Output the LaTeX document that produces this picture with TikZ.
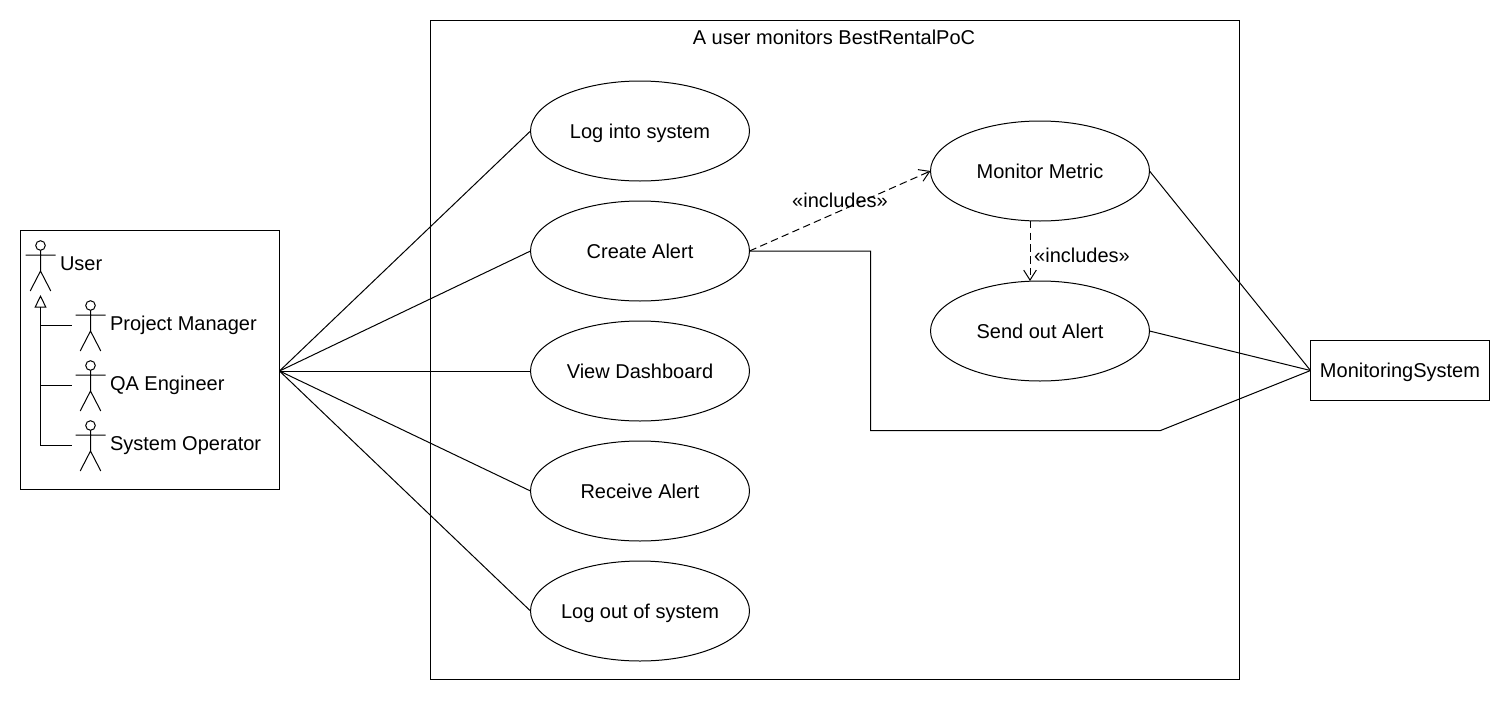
\documentclass[tikz,border=0pt]{standalone}
\usepackage{fontspec}
\setmainfont{Liberation Sans}
\usetikzlibrary{shapes.geometric,arrows.meta}
\tikzset{
  every node/.style={font=\fontsize{15}{18}\selectfont,text=black,outer sep=0pt,inner sep=0pt,text height=10.7pt,text depth=0pt},
  usecase/.style={ellipse,draw,inner xsep=-8pt,minimum width=164.25pt,minimum height=75pt},
  box/.style={rectangle,draw},
  lbl/.style={anchor=west},
  assoc/.style={draw},
  incl/.style={draw,dash pattern=on 5.6pt off 3.2pt,-{Straight Barb[length=7.5pt,width=9.5pt]}},
  gen/.style={draw,-{Triangle[open,length=9.5pt,width=9pt]}},
  pics/actor/.style={code={
    \draw (0,0) circle[radius=4.8];
    \draw (0,4.8) -- (0,25.5) (-15,9.5) -- (15,9.5) (-10.3,45.5) -- (0,25.5) -- (10.3,45.5);
    \coordinate (-port) at (-19,20);
  }}
}
\begin{document}
\begin{tikzpicture}[x=0.75pt,y=-0.75pt,line width=0.75pt]
\useasboundingbox (0,0) rectangle (1510,700);
\fill[white] (0,0) rectangle (1510,700);

\node[box,minimum width=194.25pt,minimum height=194.25pt] (group) at (150,360) {};
\node[box,minimum width=606.75pt,minimum height=494.25pt] (boundary) at (835,350) {};
\node (title) at (834,37) {A user monitors BestRentalPoC};

\node[box,minimum width=134.25pt,minimum height=45pt] (ms) at (1400,370.5) {MonitoringSystem};

\node[usecase] (login) at (640,131) {Log into system};
\node[usecase] (create) at (640,251) {Create Alert};
\node[usecase] (view) at (640,371) {View Dashboard};
\node[usecase] (receive) at (640,491) {Receive Alert};
\node[usecase] (logout) at (640,611) {Log out of system};
\node[usecase] (monitor) at (1040,171) {Monitor Metric};
\node[usecase] (send) at (1040,331) {Send out Alert};

\pic (user) at (40.5,245.5) {actor};
\pic (pm) at (90.5,305.5) {actor};
\pic (qa) at (90.5,365.5) {actor};
\pic (so) at (90.5,425.5) {actor};
\node[lbl] (userl) at (60,263) {User};
\node[lbl] (pml) at (110,323) {Project Manager};
\node[lbl] (qal) at (110,383) {QA Engineer};
\node[lbl] (sol) at (110,443) {System Operator};

\coordinate (genhead) at (40.5,295);
\draw[gen] (so-port) -| (genhead);
\draw (pm-port) -- (pm-port -| genhead);
\draw (qa-port) -- (qa-port -| genhead);

\coordinate (hub) at (group.east |- view.west);
\foreach \u in {login,create,view,receive,logout}
  \draw[assoc] (hub) -- (\u.west);
\draw[assoc] (monitor.east) -- (ms.west);
\draw[assoc] (send.east) -- (ms.west);
\coordinate (b1) at (870.5,430.5);
\coordinate (b2) at (1160.5,430.5);
\draw[assoc] (create.east) -| (b1) -- (b2) -- (ms.west);

\draw[incl] (create.east) -- (monitor.west);
\draw[incl] ([xshift=-7.5pt]monitor.south) -- ([xshift=-7.5pt]send.north);
\node (i1) at (840,200) {«includes»};
\node (i2) at (1082,255) {«includes»};
\end{tikzpicture}
\end{document}
